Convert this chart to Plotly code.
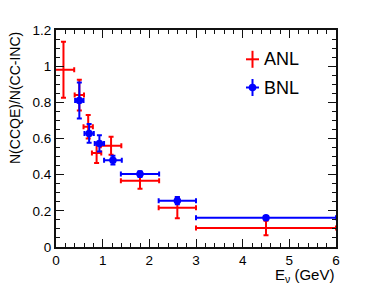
import plotly.graph_objects as go

# ANL data
anl_x = [0.16, 0.50, 0.69, 0.87, 1.18, 1.80, 2.60, 4.50]
anl_xerr = [0.23, 0.10, 0.10, 0.10, 0.22, 0.41, 0.40, 1.50]
anl_y = [0.98, 0.84, 0.665, 0.52, 0.56, 0.367, 0.217, 0.105]
anl_yerr = [0.155, 0.085, 0.065, 0.055, 0.05, 0.045, 0.058, 0.04]

# BNL data
bnl_x = [0.50, 0.71, 0.93, 1.22, 1.80, 2.60, 4.50]
bnl_xerr = [0.09, 0.10, 0.10, 0.19, 0.41, 0.40, 1.50]
bnl_y = [0.81, 0.628, 0.573, 0.48, 0.403, 0.256, 0.162]
bnl_yerr = [0.10, 0.052, 0.045, 0.024, 0.016, 0.02, 0.01]

RED = "#ff0000"
BLUE = "#0000ff"
FONT = "Liberation Sans, Arial, sans-serif"

fig = go.Figure()
fig.add_trace(go.Scatter(
    x=anl_x, y=anl_y, mode="markers", name="ANL",
    marker=dict(size=1, color=RED),
    error_x=dict(type="data", array=anl_xerr, color=RED, thickness=2, width=2.5),
    error_y=dict(type="data", array=anl_yerr, color=RED, thickness=2, width=2.5),
    showlegend=False,
))
fig.add_trace(go.Scatter(
    x=bnl_x, y=bnl_y, mode="markers", name="BNL",
    marker=dict(size=7.5, color=BLUE, symbol="circle"),
    error_x=dict(type="data", array=bnl_xerr, color=BLUE, thickness=2, width=2.5),
    error_y=dict(type="data", array=bnl_yerr, color=BLUE, thickness=2, width=2.5),
    showlegend=False,
))

W, H = 374, 291
L, R, T, B = 56, 38, 30, 44

axis_common = dict(
    showline=True, linecolor="#111", linewidth=2, mirror="ticks",
    ticks="inside", ticklen=8, tickwidth=1, tickcolor="#111",
    showgrid=False, zeroline=False, automargin=False,
    tickfont=dict(family=FONT, size=13.5, color="#000"),
)
fig.update_xaxes(range=[0, 6], dtick=1, tick0=0,
                 minor=dict(ticks="inside", ticklen=4, dtick=0.2, tickcolor="#111", showgrid=False),
                 **axis_common)
fig.update_yaxes(range=[0, 1.2], dtick=0.2, tick0=0,
                 minor=dict(ticks="inside", ticklen=4, dtick=0.05, tickcolor="#111", showgrid=False),
                 **axis_common)

pw = W - L - R
ph = H - T - B

def px2paper_x(px):
    return (px - L) / pw

def px2paper_y(py):
    return (H - B - py) / ph

annotations = [
    dict(text="N(CCQE)/N(CC-INC)", textangle=-90, xref="paper", yref="paper",
         x=px2paper_x(15), y=1.0, xanchor="center", yanchor="top", showarrow=False,
         font=dict(family=FONT, size=14, color="#000")),
    dict(text="E<sub>ν</sub> (GeV)", xref="paper", yref="paper",
         x=1.0, y=px2paper_y(275), xanchor="right", yanchor="middle", showarrow=False,
         font=dict(family=FONT, size=15, color="#000")),
]

legend_items = [("ANL", RED, 59.3, False), ("BNL", BLUE, 87.5, True)]
shapes = []
for label, col, py, dot in legend_items:
    cx = px2paper_x(252.5)
    cy = px2paper_y(py)
    shapes.append(dict(type="line", xref="paper", yref="paper", xsizemode="pixel", ysizemode="pixel",
                       xanchor=cx, yanchor=cy, x0=-6.5, x1=6.5, y0=0, y1=0,
                       line=dict(color=col, width=2)))
    shapes.append(dict(type="line", xref="paper", yref="paper", xsizemode="pixel", ysizemode="pixel",
                       xanchor=cx, yanchor=cy, x0=0, x1=0, y0=-8.5, y1=8.5,
                       line=dict(color=col, width=2)))
    if dot:
        shapes.append(dict(type="circle", xref="paper", yref="paper", xsizemode="pixel", ysizemode="pixel",
                           xanchor=cx, yanchor=cy, x0=-3.8, x1=3.8, y0=-3.8, y1=3.8,
                           fillcolor=col, line=dict(color=col, width=0)))
    annotations.append(dict(text=label, xref="paper", yref="paper",
                            x=px2paper_x(262), y=cy, xanchor="left", yanchor="middle",
                            showarrow=False, font=dict(family=FONT, size=18, color="#000")))

fig.update_layout(
    width=W, height=H,
    margin=dict(l=L, r=R, t=T, b=B, pad=0, autoexpand=False),
    paper_bgcolor="white", plot_bgcolor="white",
    annotations=annotations, shapes=shapes,
    showlegend=False,
)

fig.write_html("out.html", config={"displayModeBar": False},
               post_script="document.body.style.margin='0';document.body.style.overflow='hidden';")
